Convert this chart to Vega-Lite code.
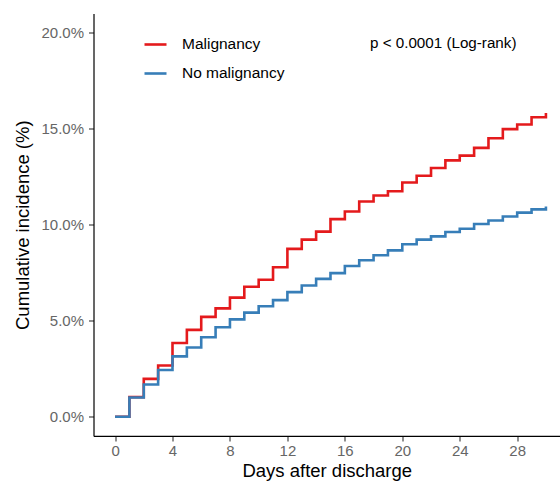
{
  "$schema": "https://vega.github.io/schema/vega-lite/v6.json",
  "autosize": "none",
  "padding": {"left": 93.5, "top": 13.5, "right": 0, "bottom": 46},
  "width": 466.5,
  "height": 422.4,
  "background": "white",
  "config": {
    "font": "Liberation Sans",
    "view": {"stroke": null},
    "axis": {"grid": false, "domainColor": "#000000", "domainWidth": 1.2, "tickColor": "#333333", "tickWidth": 1.1, "tickSize": 5, "labelColor": "#666666", "labelFontSize": 15, "labelFont": "Liberation Sans", "titleFont": "Liberation Sans", "titleFontWeight": "normal", "titleColor": "#000000", "titleFontSize": 18.5}
  },
  "datasets": {
    "ci": [
      {"day": 0, "cum": 0, "group": "Malignancy"},
      {"day": 1, "cum": 1.02, "group": "Malignancy"},
      {"day": 2, "cum": 1.97, "group": "Malignancy"},
      {"day": 3, "cum": 2.67, "group": "Malignancy"},
      {"day": 4, "cum": 3.84, "group": "Malignancy"},
      {"day": 5, "cum": 4.52, "group": "Malignancy"},
      {"day": 6, "cum": 5.2, "group": "Malignancy"},
      {"day": 7, "cum": 5.64, "group": "Malignancy"},
      {"day": 8, "cum": 6.2, "group": "Malignancy"},
      {"day": 9, "cum": 6.77, "group": "Malignancy"},
      {"day": 10, "cum": 7.13, "group": "Malignancy"},
      {"day": 11, "cum": 7.78, "group": "Malignancy"},
      {"day": 12, "cum": 8.74, "group": "Malignancy"},
      {"day": 13, "cum": 9.22, "group": "Malignancy"},
      {"day": 14, "cum": 9.64, "group": "Malignancy"},
      {"day": 15, "cum": 10.29, "group": "Malignancy"},
      {"day": 16, "cum": 10.69, "group": "Malignancy"},
      {"day": 17, "cum": 11.21, "group": "Malignancy"},
      {"day": 18, "cum": 11.52, "group": "Malignancy"},
      {"day": 19, "cum": 11.74, "group": "Malignancy"},
      {"day": 20, "cum": 12.2, "group": "Malignancy"},
      {"day": 21, "cum": 12.55, "group": "Malignancy"},
      {"day": 22, "cum": 12.95, "group": "Malignancy"},
      {"day": 23, "cum": 13.35, "group": "Malignancy"},
      {"day": 24, "cum": 13.6, "group": "Malignancy"},
      {"day": 25, "cum": 14.0, "group": "Malignancy"},
      {"day": 26, "cum": 14.5, "group": "Malignancy"},
      {"day": 27, "cum": 14.98, "group": "Malignancy"},
      {"day": 28, "cum": 15.22, "group": "Malignancy"},
      {"day": 29, "cum": 15.6, "group": "Malignancy"},
      {"day": 30, "cum": 15.82, "group": "Malignancy"},
      {"day": 0, "cum": 0, "group": "No malignancy"},
      {"day": 1, "cum": 1.0, "group": "No malignancy"},
      {"day": 2, "cum": 1.68, "group": "No malignancy"},
      {"day": 3, "cum": 2.43, "group": "No malignancy"},
      {"day": 4, "cum": 3.14, "group": "No malignancy"},
      {"day": 5, "cum": 3.6, "group": "No malignancy"},
      {"day": 6, "cum": 4.14, "group": "No malignancy"},
      {"day": 7, "cum": 4.66, "group": "No malignancy"},
      {"day": 8, "cum": 5.07, "group": "No malignancy"},
      {"day": 9, "cum": 5.42, "group": "No malignancy"},
      {"day": 10, "cum": 5.75, "group": "No malignancy"},
      {"day": 11, "cum": 6.07, "group": "No malignancy"},
      {"day": 12, "cum": 6.49, "group": "No malignancy"},
      {"day": 13, "cum": 6.83, "group": "No malignancy"},
      {"day": 14, "cum": 7.18, "group": "No malignancy"},
      {"day": 15, "cum": 7.48, "group": "No malignancy"},
      {"day": 16, "cum": 7.85, "group": "No malignancy"},
      {"day": 17, "cum": 8.15, "group": "No malignancy"},
      {"day": 18, "cum": 8.41, "group": "No malignancy"},
      {"day": 19, "cum": 8.66, "group": "No malignancy"},
      {"day": 20, "cum": 8.98, "group": "No malignancy"},
      {"day": 21, "cum": 9.22, "group": "No malignancy"},
      {"day": 22, "cum": 9.39, "group": "No malignancy"},
      {"day": 23, "cum": 9.62, "group": "No malignancy"},
      {"day": 24, "cum": 9.79, "group": "No malignancy"},
      {"day": 25, "cum": 10.04, "group": "No malignancy"},
      {"day": 26, "cum": 10.22, "group": "No malignancy"},
      {"day": 27, "cum": 10.43, "group": "No malignancy"},
      {"day": 28, "cum": 10.63, "group": "No malignancy"},
      {"day": 29, "cum": 10.8, "group": "No malignancy"},
      {"day": 30, "cum": 10.95, "group": "No malignancy"}
    ],
    "note": [
      {"label": "p < 0.0001 (Log-rank)"}
    ]
  },
  "layer": [
    {
      "data": {"name": "ci"},
      "mark": {"type": "line", "interpolate": "step-after", "strokeWidth": 2.6, "clip": true},
      "encoding": {
        "x": {"field": "day", "type": "quantitative", "scale": {"domain": [-1.5, 30.98], "nice": false, "zero": false},
              "axis": {"values": [0, 4, 8, 12, 16, 20, 24, 28], "title": "Days after discharge", "titlePadding": 3, "labelPadding": 3}},
        "y": {"field": "cum", "type": "quantitative", "scale": {"domain": [-1, 21], "nice": false, "zero": false},
              "axis": {"values": [0, 5, 10, 15, 20], "labelExpr": "format(datum.value, '.1f') + '%'", "title": "Cumulative incidence (%)", "titlePadding": 8, "labelPadding": 5}},
        "color": {"field": "group", "type": "nominal",
                  "scale": {"domain": ["Malignancy", "No malignancy"], "range": ["#E41A1C", "#377EB8"]},
                  "legend": {"title": null, "orient": "none", "legendX": 49.5, "legendY": 18.5, "symbolType": "stroke", "symbolSize": 484, "symbolStrokeWidth": 2.6, "labelFontSize": 15.5, "labelColor": "#000000", "labelOffset": 14, "rowPadding": 8, "padding": 0}}
      }
    },
    {
      "data": {"name": "note"},
      "mark": {"type": "text", "align": "left", "baseline": "middle", "fontSize": 15.2, "color": "#000000", "font": "Liberation Sans"},
      "encoding": {
        "x": {"datum": 17.75},
        "y": {"datum": 19.46},
        "text": {"field": "label"}
      }
    }
  ]
}
